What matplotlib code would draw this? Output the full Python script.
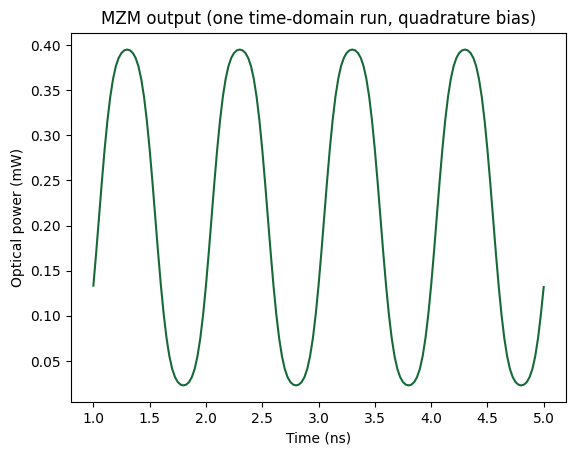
import numpy as np
import matplotlib.pyplot as plt

# sample times (ns), 25 ps step
time_ns = np.linspace(1.0, 5.0, 161)

# optical power (mW)
power_mw = [
    0.1335, 0.1700, 0.2090, 0.2480, 0.2845, 0.3164, 0.3426, 0.3625, 0.3767, 0.3858,
    0.3913, 0.3941, 0.3950, 0.3941, 0.3913, 0.3858, 0.3767, 0.3625, 0.3426, 0.3164,
    0.2845, 0.2480, 0.2090, 0.1700, 0.1335, 0.1016, 0.0754, 0.0555, 0.0413, 0.0322,
    0.0267, 0.0239, 0.0230, 0.0239, 0.0267, 0.0322, 0.0413, 0.0555, 0.0754, 0.1016,
    0.1335, 0.1700, 0.2090, 0.2480, 0.2845, 0.3164, 0.3426, 0.3625, 0.3767, 0.3858,
    0.3913, 0.3941, 0.3950, 0.3941, 0.3913, 0.3858, 0.3767, 0.3625, 0.3426, 0.3164,
    0.2845, 0.2480, 0.2090, 0.1700, 0.1335, 0.1016, 0.0754, 0.0555, 0.0413, 0.0322,
    0.0267, 0.0239, 0.0230, 0.0239, 0.0267, 0.0322, 0.0413, 0.0555, 0.0754, 0.1016,
    0.1335, 0.1700, 0.2090, 0.2480, 0.2845, 0.3164, 0.3426, 0.3625, 0.3767, 0.3858,
    0.3913, 0.3941, 0.3950, 0.3941, 0.3913, 0.3858, 0.3767, 0.3625, 0.3426, 0.3164,
    0.2845, 0.2480, 0.2090, 0.1700, 0.1335, 0.1016, 0.0754, 0.0555, 0.0413, 0.0322,
    0.0267, 0.0239, 0.0230, 0.0239, 0.0267, 0.0322, 0.0413, 0.0555, 0.0754, 0.1016,
    0.1335, 0.1700, 0.2090, 0.2480, 0.2845, 0.3164, 0.3426, 0.3625, 0.3767, 0.3858,
    0.3913, 0.3941, 0.3950, 0.3941, 0.3913, 0.3858, 0.3767, 0.3625, 0.3426, 0.3164,
    0.2845, 0.2480, 0.2090, 0.1700, 0.1335, 0.1016, 0.0754, 0.0555, 0.0413, 0.0322,
    0.0267, 0.0239, 0.0230, 0.0239, 0.0267, 0.0322, 0.0413, 0.0555, 0.0754, 0.1016,
    0.1320,
]

fig, ax = plt.subplots(figsize=(5.76, 4.55), dpi=100)
ax.plot(time_ns, power_mw, color="#176a37", linewidth=1.5)
ax.set_title("MZM output (one time-domain run, quadrature bias)")
ax.set_xlabel("Time (ns)")
ax.set_ylabel("Optical power (mW)")
fig.subplots_adjust(left=0.123, right=0.983, top=0.928, bottom=0.116)
fig.savefig("out.png", dpi=100)
